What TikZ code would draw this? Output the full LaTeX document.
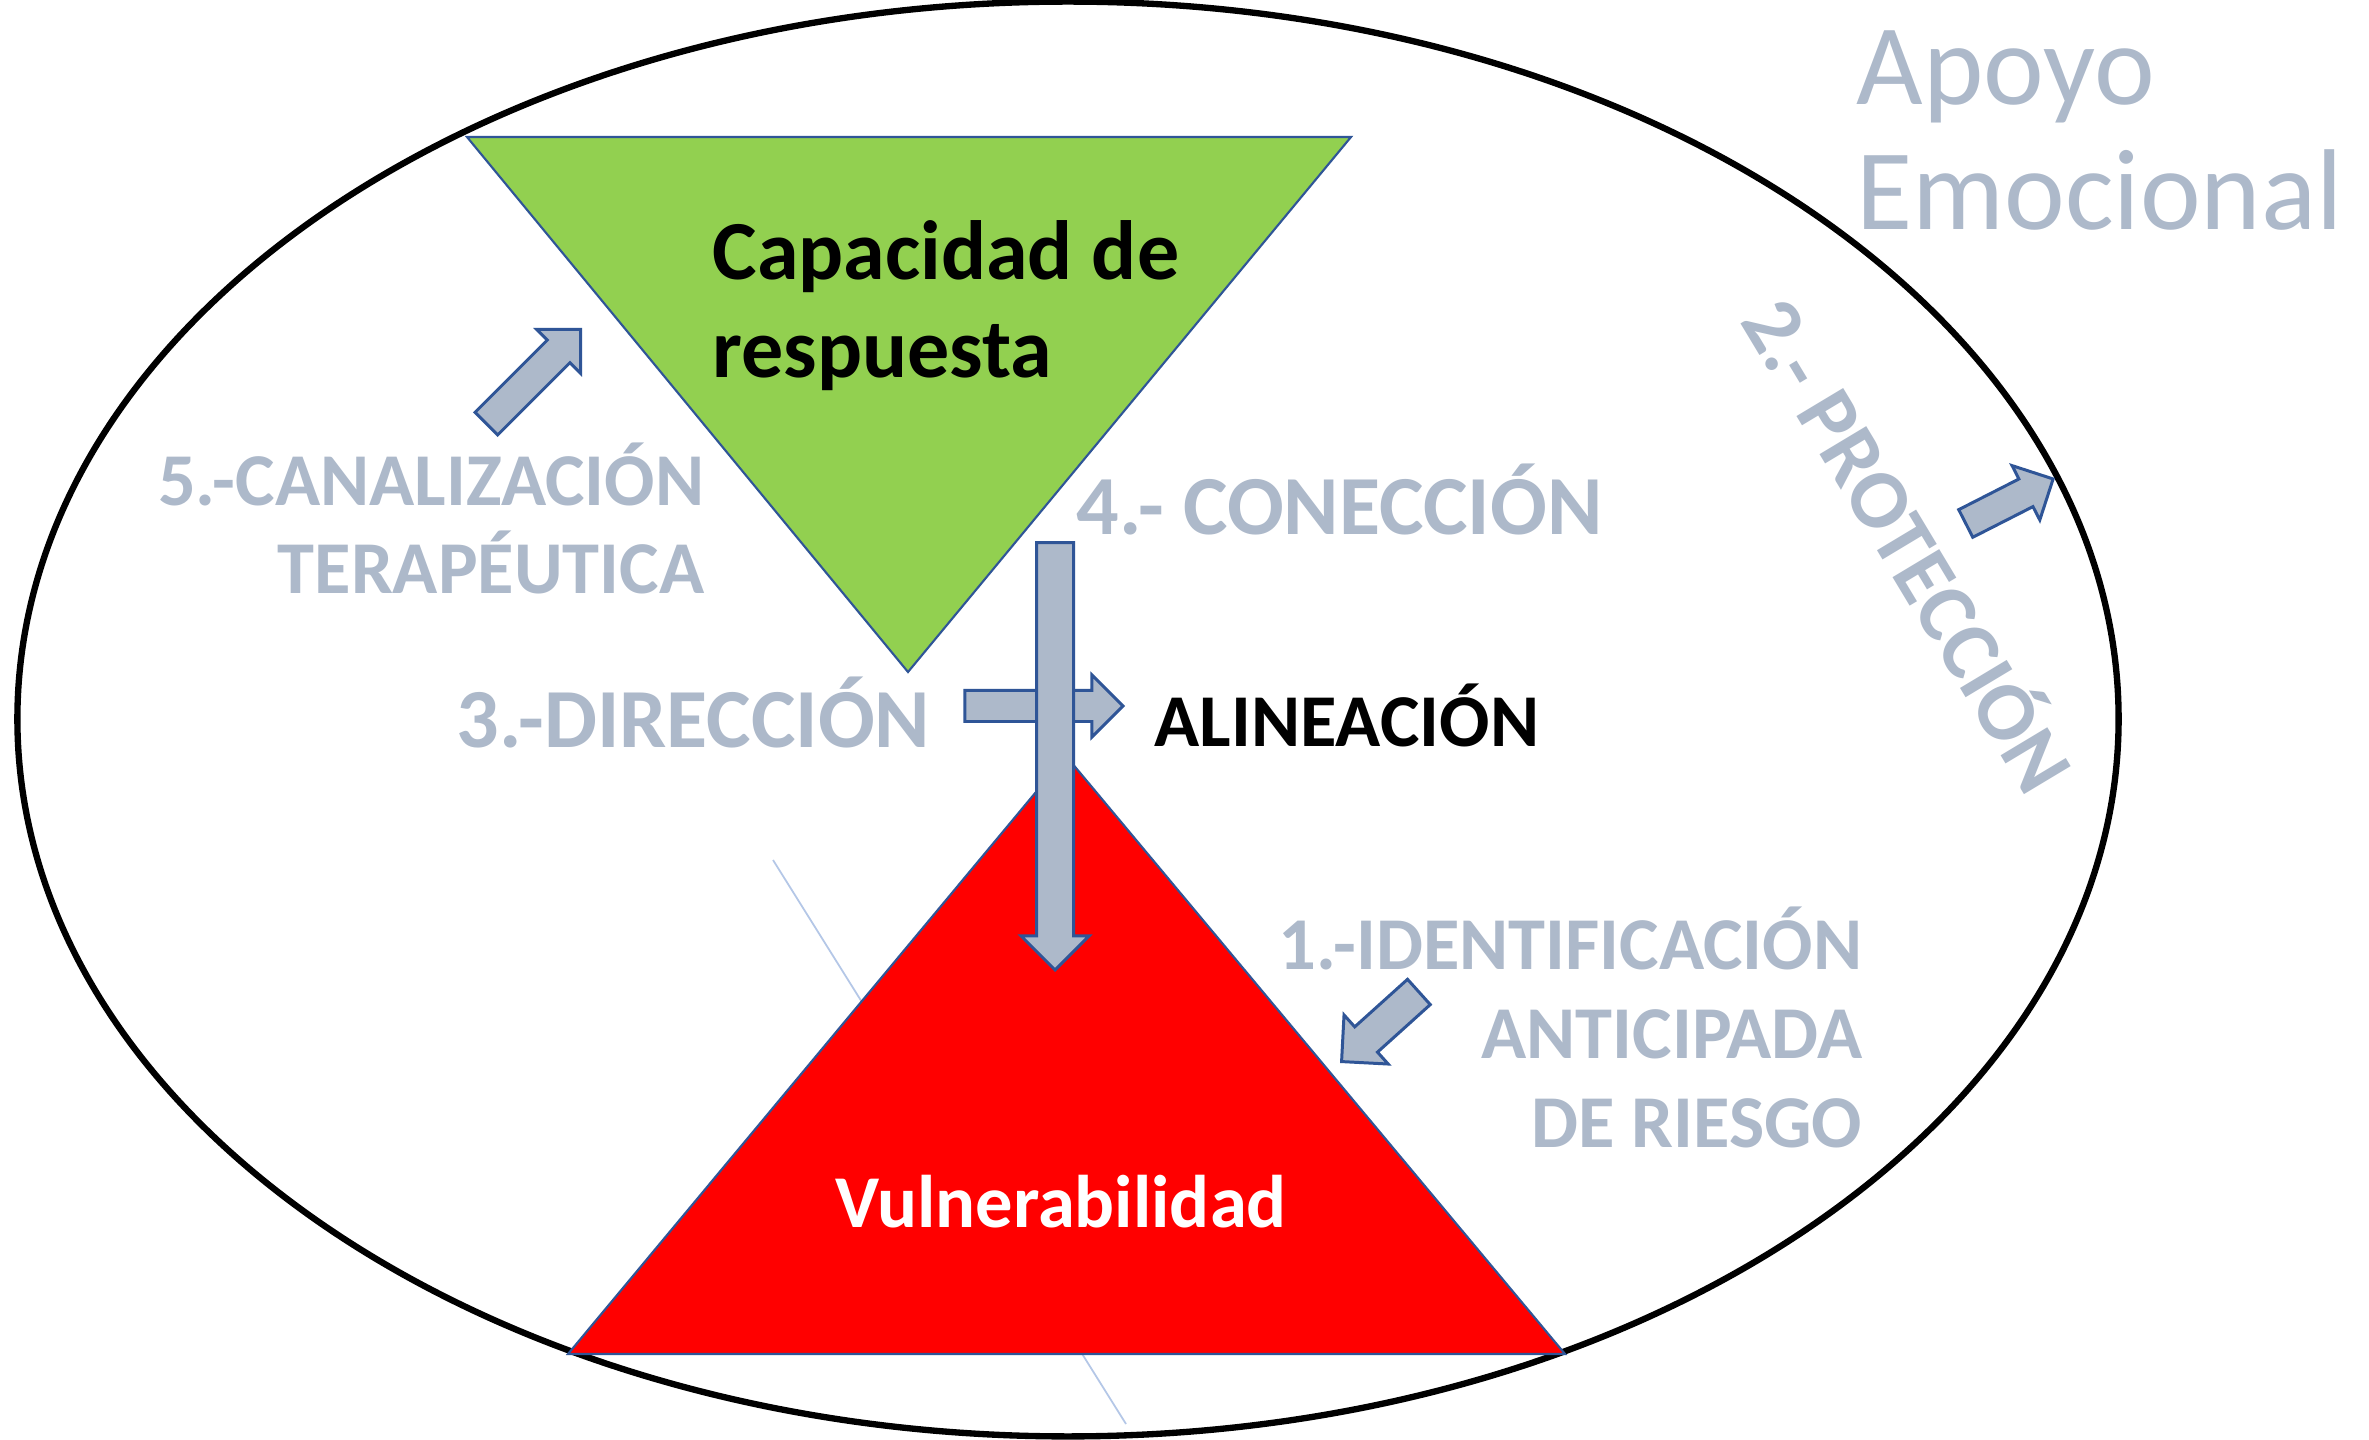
\documentclass[tikz,border=0pt]{standalone}
\usepackage{fontspec}
\setmainfont{Carlito}
\usetikzlibrary{shapes.arrows}
\usetikzlibrary{positioning}
\definecolor{apoyogray}{HTML}{ADB9CA}
\definecolor{edgeblue}{HTML}{2F5597}
\definecolor{capgreen}{HTML}{92D050}
\definecolor{faintblue}{HTML}{B4C7E7}
\tikzset{
    blockarrow/.style={
        single arrow, draw=edgeblue, line width=0.85pt,
        fill=apoyogray, inner xsep=0pt, inner ysep=0.14cm,
        single arrow tip angle=90,
        single arrow head extend=0.155cm,
    },
    stagelabel/.style={
        text=apoyogray, inner sep=0pt,
    },
    bigbold/.style={font=\bfseries\fontsize{23.9}{27.9}\selectfont},
    smallbold/.style={font=\bfseries\fontsize{21.2}{25.3}\selectfont},
}

\begin{document}
\begin{tikzpicture}[x=0.01cm, y=-0.01cm]
        \useasboundingbox (0,0) rectangle (2369,1440);

        \draw[line width=1.8pt, fill=white] (1068,719) ellipse [x radius=10.5cm, y radius=7.17cm];

        \coordinate (faintA) at (773,860);
        \coordinate (faintB) at (1126,1424);
        \draw[faintblue, line width=0.5pt] (faintA) -- (faintB);

        \coordinate (capL) at (467,137);
        \coordinate (capR) at (1351,137);
        \coordinate (capT) at (908,672);
        \draw[edgeblue, line width=0.6pt, fill=capgreen] (capL) -- (capR) -- (capT) -- cycle;

        \node (dirarrow) at(1125,706) [
            blockarrow, anchor=tip,
            minimum height=1.58cm,
        ] {};

        \coordinate (vulL) at (568,1354);
        \coordinate (vulR) at (1565,1354);
        \coordinate (vulT) at (1066,756);
        \draw[edgeblue, line width=0.6pt, fill=red] (vulL) -- (vulR) -- (vulT) -- cycle;

        \node (conarrow) at(1055,972) [
            blockarrow, anchor=tip, rotate=-90,
            minimum height=4.27cm, inner ysep=0.17cm,
        ] {};
        \node (protarrow) at(2055,478) [
            blockarrow, anchor=tip, rotate=27,
            minimum height=0.98cm, single arrow head extend=0.15cm,
        ] {};
        \node (canarrow) at(582,328) [
            blockarrow, anchor=tip, rotate=45,
            minimum height=1.33cm, inner ysep=0.145cm,
            single arrow head extend=0.15cm,
        ] {};
        \node (idarrow) at(1340,1063) [
            blockarrow, anchor=tip, rotate=222,
            minimum height=1.04cm, inner ysep=0.155cm,
            single arrow head extend=0.16cm,
        ] {};

        \node (capacidad) at(712,378) [
            anchor=base west, inner sep=0pt, align=left,
            bigbold, text=black,
        ] {Capacidad de\\respuesta};

        \node (vulnera) at(1061,1227) [
            anchor=base, inner sep=0pt,
            smallbold, text=white,
        ] {Vulnerabilidad};

        \node (canaliza) at(705,594) [
            stagelabel, anchor=base east, align=right,
            smallbold,
        ] {5.-CANALIZACIÓN\\TERAPÉUTICA};

        \node (direccion) at(456,748) [
            stagelabel, anchor=base west,
            bigbold,
        ] {3.-DIRECCIÓN};

        \node (alinea) at(1154,747) [
            anchor=base west, inner sep=0pt,
            smallbold, text=black,
        ] {ALINEACIÓN};

        \node (conexion) at(1076,535) [
            stagelabel, anchor=base west,
            bigbold,
        ] {4.- CONECCIÓN};

        \node (identifica) at(1863,1147) [
            stagelabel, anchor=base east, align=right,
            smallbold,
        ] {1.-IDENTIFICACIÓN\\ANTICIPADA\\DE RIESGO};

        \node (proteccion) at(1913,542) [
            stagelabel, rotate=-59,
            bigbold,
        ] {2.- PROTECCIÓN};

        \node (apoyo) at(1856,230) [
            stagelabel, anchor=base west, align=left,
            font=\fontsize{32.7}{35.6}\selectfont,
        ] {Apoyo\\Emocional};
    \end{tikzpicture}
\end{document}
